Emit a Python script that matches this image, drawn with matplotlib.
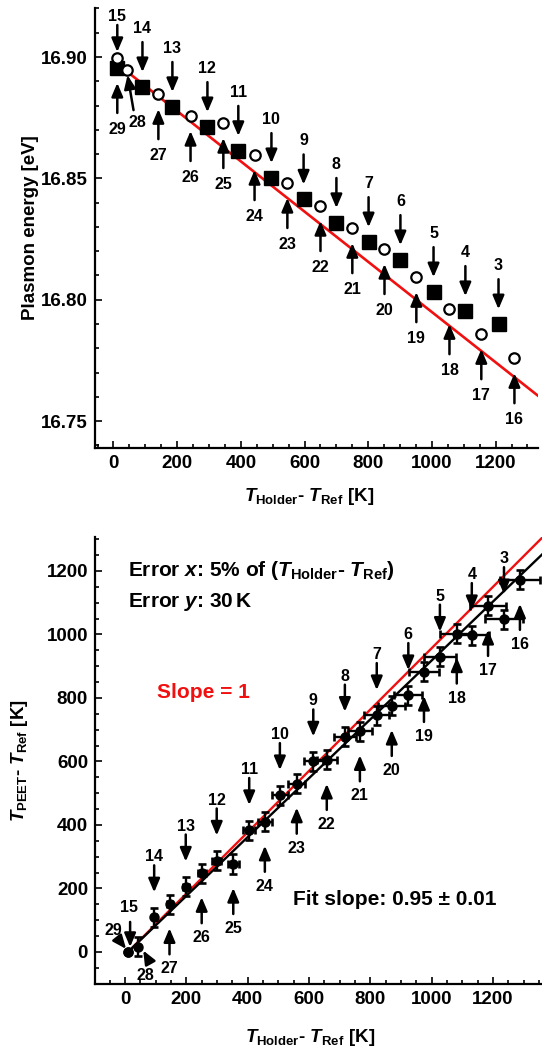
import matplotlib
matplotlib.use("Agg")
import matplotlib.pyplot as plt
import numpy as np
from matplotlib.ticker import MultipleLocator, FormatStrFormatter
from matplotlib.transforms import offset_copy

plt.rcParams["font.family"] = ["Liberation Sans", "DejaVu Sans"]
plt.rcParams["font.weight"] = "bold"
plt.rcParams["axes.labelweight"] = "bold"
plt.rcParams["mathtext.fontset"] = "custom"
plt.rcParams["mathtext.rm"] = "Liberation Sans:bold"
plt.rcParams["mathtext.it"] = "Liberation Sans:italic:bold"
plt.rcParams["mathtext.bf"] = "Liberation Sans:bold"

RED = "#f01010"

# top panel: plasmon energy, filled squares and open circles
sq_run = [29, 14, 13, 12, 11, 10, 9, 8, 7, 6, 5, 4, 3]
sq_dt = [12, 91, 185, 295, 392, 496, 597, 700, 801, 901, 1005, 1105, 1209]
sq_ep = [16.8955, 16.8876, 16.8794, 16.8711, 16.8613, 16.8501, 16.8413,
         16.8316, 16.8237, 16.8163, 16.8031, 16.7953, 16.7899]

ci_run = [15, 28, 27, 26, 25, 24, 23, 22, 21, 20, 19, 18, 17, 16]
ci_dt = [12, 41, 141, 242, 345, 443, 546, 650, 750, 851, 951, 1055, 1155, 1259]
ci_ep = [16.8996, 16.8946, 16.8847, 16.8757, 16.8728, 16.8596, 16.8481,
         16.8386, 16.8295, 16.8209, 16.8093, 16.7961, 16.7858, 16.7759]

ep_icpt = 16.8984
ep_slope = -1.035e-4

# bottom panel: PEET temperature vs holder temperature
pe_run = [29, 15, 28, 14, 27, 13, 26, 12, 25, 11, 24, 10, 23, 9, 22, 8, 21,
          7, 20, 6, 19, 5, 18, 4, 17, 3, 16]
pe_dt = [10, 10, 43, 95, 145, 198, 250, 299, 353, 405, 456, 505, 560, 614,
         658, 717, 766, 821, 870, 924, 975, 1027, 1082, 1131, 1184, 1236, 1288]
pe_dp = [0, 0, 17, 109, 150, 206, 248, 288, 277, 384, 410, 494, 530, 600,
         605, 678, 695, 746, 775, 809, 882, 930, 1003, 998, 1090, 1048, 1172]
pe_yerr = [0, 0, 30, 30, 30, 30, 30, 30, 30, 30, 30, 30, 30, 30, 30, 30, 30,
           30, 30, 30, 30, 30, 30, 30, 30, 30, 30]
xerr_frac = 0.05

one_slope, one_icpt, one_x0 = 0.966, -9.4, 25
fit_slope, fit_icpt, fit_x0 = 0.927, -9.0, 10

fig = plt.figure(figsize=(5.42, 10.48), dpi=100)
ax1 = fig.add_axes([95 / 542, 600 / 1048, 443 / 542, 440 / 1048])
ax2 = fig.add_axes([95 / 542, 64 / 1048, 447 / 542, 447 / 1048])

ARROW = dict(arrowstyle="-|>,head_length=0.45,head_width=0.19", color="k", lw=1.8,
             shrinkA=0, shrinkB=0, mutation_scale=18)


def tag(ax, x, y, text, tip, tail, lab):
    """arrow (pixel offsets from the point) plus its run number"""
    tip_tr = offset_copy(ax.transData, fig=fig, x=tip[0], y=tip[1], units="dots")
    ax.annotate("", xy=(x, y), xycoords=tip_tr,
                xytext=(tail[0] - tip[0], tail[1] - tip[1]), textcoords="offset pixels",
                arrowprops=ARROW)
    ax.annotate(str(text), xy=(x, y), xytext=(lab[0], lab[1] - 6),
                textcoords="offset pixels", ha="center", va="baseline",
                fontsize=11.5, fontweight="bold")


# ---- top panel
xs = np.array([0, 1333])
ax1.plot(xs, ep_icpt + ep_slope * xs, color=RED, lw=1.9, zorder=1)
ax1.plot(sq_dt, sq_ep, "s", color="k", ms=9.5, zorder=3)
ax1.plot(ci_dt, ci_ep, "o", mfc="white", mec="k", mew=1.6, ms=7.5, zorder=3)

top_special = {15: ((0, 6), (0, 33), (0, 43)),
               28: ((1, -5), (7, -40), (11, -51))}
for run, x, y in list(zip(sq_run, sq_dt, sq_ep)) + list(zip(ci_run, ci_dt, ci_ep)):
    if run in top_special:
        tip, tail, lab = top_special[run]
    elif run <= 15:
        tip, tail, lab = (0, 15), (0, 45), (0, 60)
    else:
        tip, tail, lab = (0, -15), (0, -45), (0, -60)
    tag(ax1, x, y, run, tip, tail, lab)

ax1.set_xlim(-58, 1333)
ax1.set_ylim(16.7389, 16.9202)
ax1.xaxis.set_major_locator(MultipleLocator(200))
ax1.xaxis.set_minor_locator(MultipleLocator(50))
ax1.yaxis.set_major_locator(MultipleLocator(0.05))
ax1.yaxis.set_minor_locator(MultipleLocator(0.01))
ax1.yaxis.set_major_formatter(FormatStrFormatter("%.2f"))
ax1.set_ylabel("Plasmon energy [eV]", fontsize=13.5, fontweight="bold")
ax1.set_xlabel(r"$\mathit{T}_{\mathrm{Holder}}$- $\mathit{T}_{\mathrm{Ref}}$ [K]",
               fontsize=13.5, fontweight="bold")
ax1.yaxis.set_label_coords(-0.126, 0.5)
ax1.xaxis.set_label_coords(0.483, -0.086)

# ---- bottom panel
xr = np.array([one_x0, 1360])
ax2.plot(xr, one_slope * xr + one_icpt, color=RED, lw=1.7, zorder=1)
xf = np.array([fit_x0, 1360])
ax2.plot(xf, fit_slope * xf + fit_icpt, color="k", lw=1.7, zorder=1)
ax2.errorbar(pe_dt, pe_dp, xerr=[xerr_frac * v for v in pe_dt], yerr=pe_yerr,
             fmt="o", color="k", ms=6.5, elinewidth=1.7, capsize=3, capthick=1.9, zorder=3)

bot_special = {15: ((2, 5), (2, 30), (1, 46)),
               29: ((-2, 3), (-10, 13), (-15, 23)),
               28: ((5, -4), (10, -13), (7, -27))}
for run, x, y in zip(pe_run, pe_dt, pe_dp):
    if run in bot_special:
        tip, tail, lab = bot_special[run]
    elif run <= 15:
        tip, tail, lab = (0, 25), (0, 52), (0, 62)
    else:
        tip, tail, lab = (0, -24), (0, -50), (0, -63)
    tag(ax2, x, y, run, tip, tail, lab)

ax2.text(0.074, 0.924,
         r"Error $\mathit{x}$: 5% of ($\mathit{T}_{\mathrm{Holder}}$- $\mathit{T}_{\mathrm{Ref}}$)",
         transform=ax2.transAxes, fontsize=15, ha="left", va="center")
ax2.text(0.074, 0.855, r"Error $\mathit{y}$: 30$\,$K",
         transform=ax2.transAxes, fontsize=15, ha="left", va="center")
ax2.text(0.2416, 0.653, "Slope = 1", color=RED,
         transform=ax2.transAxes, fontsize=15, ha="center", va="center")
ax2.text(0.443, 0.188, "Fit slope: 0.95 \u00b1 0.01",
         transform=ax2.transAxes, fontsize=15, ha="left", va="center")

ax2.set_xlim(-98, 1360)
ax2.set_ylim(-101, 1307)
ax2.xaxis.set_major_locator(MultipleLocator(200))
ax2.xaxis.set_minor_locator(MultipleLocator(50))
ax2.yaxis.set_major_locator(MultipleLocator(200))
ax2.yaxis.set_minor_locator(MultipleLocator(50))
ax2.set_ylabel(r"$\mathit{T}_{\mathrm{PEET}}$- $\mathit{T}_{\mathrm{Ref}}$ [K]",
               fontsize=13.5, fontweight="bold")
ax2.set_xlabel(r"$\mathit{T}_{\mathrm{Holder}}$- $\mathit{T}_{\mathrm{Ref}}$ [K]",
               fontsize=13.5, fontweight="bold")
ax2.yaxis.set_label_coords(-0.145, 0.5)
ax2.xaxis.set_label_coords(0.481, -0.096)

for ax in (ax1, ax2):
    for s in ("top", "right"):
        ax.spines[s].set_visible(False)
    for s in ("left", "bottom"):
        ax.spines[s].set_linewidth(1.6)
    ax.tick_params(which="both", direction="in", width=1.2, labelsize=13.5, pad=5)
    ax.tick_params(which="major", length=5)
    ax.tick_params(which="minor", length=3)

fig.savefig("out.png", dpi=100)
